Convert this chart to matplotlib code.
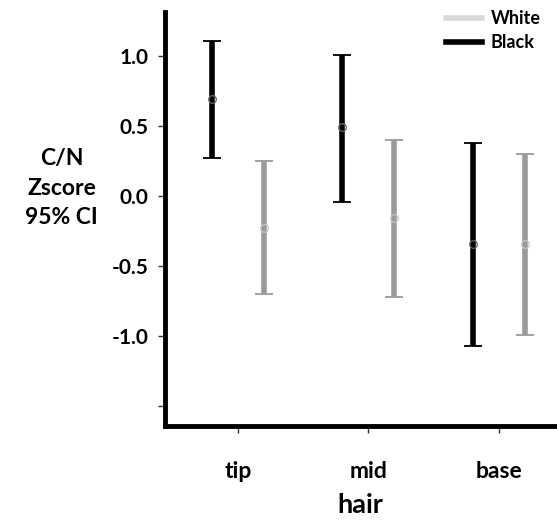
"""C/N Zscore 95% CI by hair segment, Black vs White."""

import matplotlib
matplotlib.use('Agg')
import matplotlib.pyplot as plt
from matplotlib.lines import Line2D

segments = ['tip', 'mid', 'base']
black_mean = [0.69, 0.49, -0.345]
black_low = [0.27, -0.04, -1.07]
black_high = [1.11, 1.01, 0.38]
white_mean = [-0.225, -0.16, -0.345]
white_low = [-0.70, -0.72, -0.99]
white_high = [0.25, 0.40, 0.30]
yticks = [1.0, 0.5, 0.0, -0.5, -1.0, -1.5]
ytick_labels = ['1.0', '0.5', '0.0', '-0.5', '-1.0', '']

plt.rcParams['font.family'] = ['Lato', 'DejaVu Sans']
plt.rcParams['font.weight'] = 'bold'

fig = plt.figure(figsize=(5.57, 5.21), dpi=100)
ax = fig.add_axes([0.296, 0.182, 0.70, 0.795])

pos = range(1, len(segments) + 1)
offset = 0.2


def draw(xs, mean, low, high, color, mcolor):
    yerr = [[m - l for m, l in zip(mean, low)],
            [h - m for m, h in zip(mean, high)]]
    _, caps, bars = ax.errorbar(xs, mean, yerr=yerr, fmt='none',
                                ecolor=color, elinewidth=4, capsize=6.5,
                                capthick=1.3)
    for c in caps:
        c.set_color('#222222')
    ax.plot(xs, mean, 'o', ms=5.5, mfc='none', mec=mcolor, mew=0.9, zorder=5)


draw([p - offset for p in pos], black_mean, black_low, black_high,
     'black', '#666666')
draw([p + offset for p in pos], white_mean, white_low, white_high,
     '#9a9a9a', '#c4c4c4')

ax.set_xlim(0.44, 3.43)
ax.set_ylim(-1.643, 1.314)
ax.set_xticks(list(pos))
ax.set_xticklabels(segments, fontsize=16.5, fontweight='bold')
ax.set_yticks(yticks)
ax.set_yticklabels(ytick_labels, fontsize=15, fontweight='bold')
ax.tick_params(axis='x', length=5, width=1, pad=20, color='#333333')
ax.tick_params(axis='y', length=5, width=1, pad=7, color='#333333')

for side in ('top', 'right'):
    ax.spines[side].set_visible(False)
for side in ('left', 'bottom'):
    ax.spines[side].set_linewidth(3.5)
    ax.spines[side].set_color('black')

ax.set_xlabel('hair', fontsize=19.5, fontweight='bold', labelpad=8)
fig.text(0.111, 0.639, 'C/N\nZscore\n95% CI', ha='center', va='center',
         fontsize=16.5, fontweight='bold', linespacing=1.5)

handles = [Line2D([], [], color='#d9d9d9', lw=4),
           Line2D([], [], color='black', lw=4)]
leg = fig.legend(handles, ['White', 'Black'], loc='upper right',
                 bbox_to_anchor=(1.0, 1.012), frameon=False, fontsize=13,
                 handlelength=2.0, handletextpad=0.5, labelspacing=0.4)
for t in leg.get_texts():
    t.set_fontweight('bold')

fig.savefig('out.png', dpi=100)
